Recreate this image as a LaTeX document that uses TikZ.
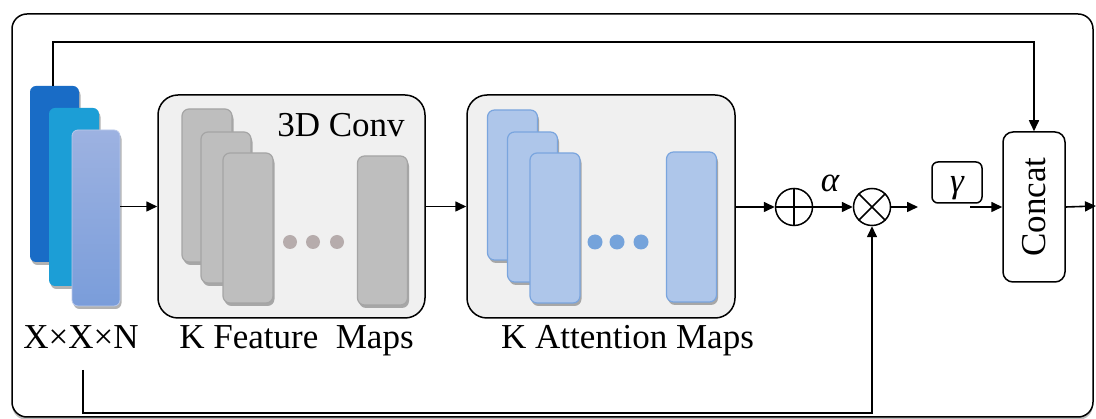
\documentclass[tikz,border=0pt]{standalone}
\usepackage{fontspec}
\setmainfont{Liberation Serif}
\newfontfamily\tnr{Liberation Serif}
\usetikzlibrary{shadows,arrows.meta,calc}
\definecolor{cA}{RGB}{25,108,198}
\definecolor{cB}{RGB}{28,158,214}
\definecolor{cCt}{RGB}{157,178,225}
\definecolor{cCb}{RGB}{122,157,218}
\definecolor{gfill}{RGB}{190,190,190}
\definecolor{gline}{RGB}{165,165,165}
\definecolor{boxfill}{RGB}{240,240,240}
\definecolor{gdot}{RGB}{182,172,172}
\definecolor{bfill}{RGB}{174,198,234}
\definecolor{bline}{RGB}{122,165,222}
\definecolor{bdot}{RGB}{117,163,219}
\begin{document}
\begin{tikzpicture}[x=1pt,y=-1pt,
  lbl/.style={font=\tnr\fontsize{35}{40}\selectfont, inner sep=0pt},
  sh/.style={drop shadow={shadow xshift=1.5pt,shadow yshift=-3pt,opacity=0.3,fill=black}},
  inmap/.style={rectangle, rounded corners=6pt, inner sep=0pt, minimum width=#1, sh},
  gmap/.style={rectangle, rounded corners=7pt, inner sep=0pt, fill=gfill, draw=gline, line width=1.2pt, minimum width=50pt, sh},
  bmap/.style={rectangle, rounded corners=7pt, inner sep=0pt, fill=bfill, draw=bline, line width=1.2pt, minimum width=50pt, sh},
  panel/.style={rectangle, rounded corners=20pt, draw=black, line width=1.5pt, fill=boxfill, minimum width=#1, minimum height=223pt, inner sep=0pt},
  opc/.style={circle, draw=black, line width=1.5pt, minimum size=37pt, inner sep=0pt},
  arr/.style={line width=1.6pt, -{Triangle[length=11pt,width=10pt]}}]
\useasboundingbox (0,0) rectangle (1096,419);
% outer frame
\draw[rounded corners=15pt, line width=1.5pt, draw=black, fill=white,
  drop shadow={shadow xshift=0pt,shadow yshift=-3pt,opacity=0.25,fill=black}]
  (12,14) rectangle (1093,417);
% input stack
\node[inmap=49pt, minimum height=176pt, fill=cA] (in1) at (54.5,174) {};
\node[inmap=50pt, minimum height=178pt, fill=cB] (in2) at (74,197) {};
\node[inmap=48pt, minimum height=176pt, top color=cCt, bottom color=cCb, draw=cCt!70!white, line width=0.8pt] (in3) at (96,218) {};
\node[lbl, anchor=base] (lin) at (81,349) {X×X×N};
% panel 1
\node[panel=267pt] (p1) at (291.5,206.5) {};
\node[gmap, minimum height=153pt] (f1) at (207,185.5) {};
\node[gmap, minimum height=151pt] (f2) at (226,207.5) {};
\node[gmap, minimum height=150pt] (f3) at (248,228) {};
\node[gmap, minimum height=149pt] (fk) at (382.5,230.5) {};
\fill[gdot] (290,242) circle (7pt) (313,242) circle (7pt) (337,242) circle (7pt);
\node[lbl, anchor=base] (conv) at (341,137) {3D Conv};
\node[lbl, anchor=base] (lfeat) at (296.5,349) {K Feature\ \ Maps};
% panel 2
\node[panel=268pt] (p2) at (601,206.5) {};
\node[bmap, minimum height=150pt] (a1) at (512.5,185) {};
\node[bmap, minimum height=150pt] (a2) at (532.5,207) {};
\node[bmap, minimum height=150pt] (a3) at (555,228) {};
\node[bmap, minimum height=150pt] (ak) at (691.5,227) {};
\fill[bdot] (595,242) circle (7.5pt) (617,242) circle (7.5pt) (641,242) circle (7.5pt);
\node[lbl, anchor=base] (latt) at (627.5,349) {K Attention Maps};
% operators
\node[opc] (pl) at (794,207) {};
\draw[line width=1.5pt] (pl.north) -- (pl.south) (pl.west) -- (pl.east);
\node[opc] (tm) at (872,207) {};
\draw[line width=1.5pt] (tm.north east) -- (tm.south west) (tm.north west) -- (tm.south east);
\node[lbl, anchor=base] (alpha) at (830,192) {\itshape α};
\coordinate (t1) at (918,207);
% gamma
\node[rectangle, rounded corners=6pt, draw=black, line width=1.5pt, minimum width=50pt, minimum height=41pt, inner sep=0pt] (gb) at (957,182.5) {};
\node[lbl, anchor=base] (gm) at (957,193) {\itshape γ};
\coordinate (g1) at (970,207);
% concat
\node[rectangle, rounded corners=10pt, draw=black, line width=1.5pt, fill=white, minimum width=62pt, minimum height=150pt, inner sep=0pt] (cc) at (1034,207) {};
\node[lbl, rotate=90] (cct) at (cc.center) {Concat};
\coordinate (out) at (1096,206);
% connectors
\draw[arr] (in3.east |- p1.west) -- (p1.west);
\draw[arr] (p1.east) -- (p2.west);
\draw[arr] (p2.east |- pl.west) -- (pl.west);
\draw[arr] (pl.east) -- (tm.west);
\draw[arr] (tm.east) -- (t1);
\draw[arr] (g1) -- (g1 -| cc.west);
\draw[arr] (cc.east) -- (out);
\draw[arr] (in1.north -| 53,0) -- (53,42) -| (cc.north);
\coordinate (b0) at (83,370);
\coordinate (b1) at (83,413);
\draw[arr] (b0) -- (b1) -| (tm.south);
\end{tikzpicture}
\end{document}
